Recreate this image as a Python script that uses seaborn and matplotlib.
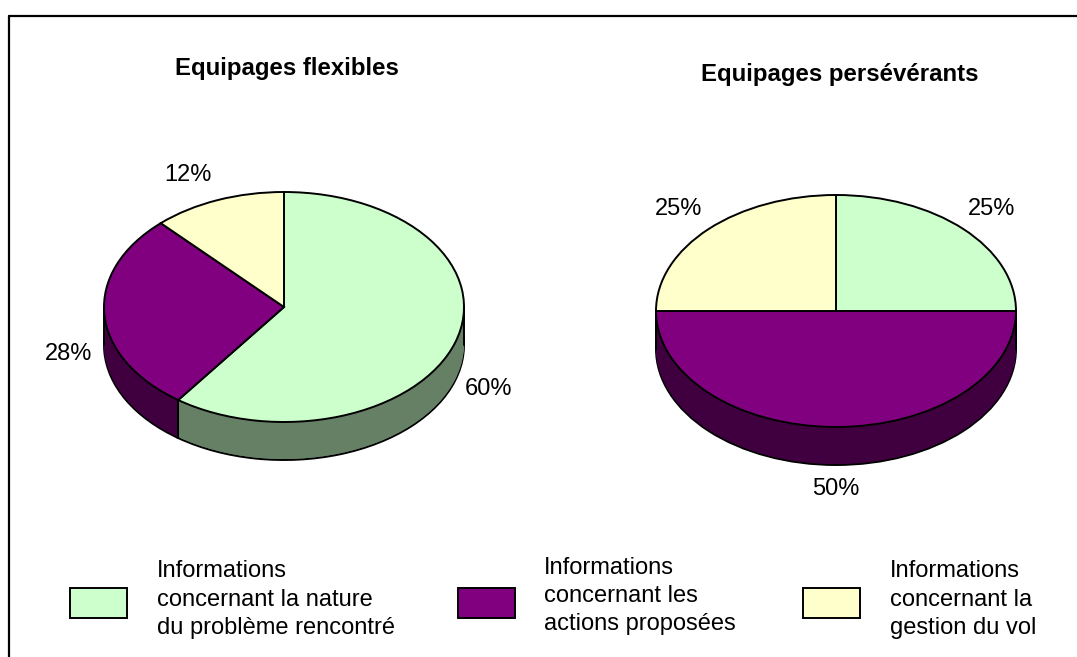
import numpy as np
import seaborn as sns
import matplotlib.pyplot as plt
from matplotlib.patches import Rectangle

# pie values in percent, clockwise from 12 o'clock
titles = ['Equipages flexibles', 'Equipages persévérants']
flexibles = [60, 28, 12]
perseverants = [25, 50, 25]
legend_labels = ['Informations\nconcernant la nature\ndu problème rencontré',
                 'Informations\nconcernant les\nactions proposées',
                 'Informations\nconcernant la\ngestion du vol']

W, H = 1077, 657

sns.set_theme(style='white')
plt.rcParams['font.family'] = ['Liberation Sans', 'DejaVu Sans']

top_cols = sns.color_palette(['#CCFFCC', '#800080', '#FFFFCC'])
side_cols = sns.color_palette(['#668066', '#400040', '#808066'])

fig = plt.figure(figsize=(W/100, H/100), dpi=100)
bg = fig.add_axes([0, 0, 1, 1])
bg.set_xlim(0, W)
bg.set_ylim(H, 0)
bg.axis('off')


def pie3d(values, cx, cy, rx, ry, depth):
    # axes in pixels, one data unit = rx across and ry down
    pad = 12
    x0, x1 = cx-rx-pad, cx+rx+pad
    y0, y1 = cy-ry-pad, cy+ry+depth+pad
    ax = fig.add_axes([x0/W, 1-y1/H, (x1-x0)/W, (y1-y0)/H])
    d = depth/ry
    kw = dict(startangle=90, counterclock=False, radius=1)
    # lower rim first, then the stack of layers, then the top face
    ax.pie(values, colors=side_cols, center=(0, -d),
           wedgeprops=dict(edgecolor='black', linewidth=1.4), **kw)
    for off in np.arange(d-1/ry, 0, -1/ry):
        ax.pie(values, colors=side_cols, center=(0, -off),
               wedgeprops=dict(edgecolor='none', linewidth=0), **kw)
    ax.pie(values, colors=top_cols, center=(0, 0),
           wedgeprops=dict(edgecolor='black', linewidth=1.4), **kw)
    # vertical seams on the visible front of the wall
    angles = np.radians(90 - 3.6*np.cumsum(values))
    for a in angles:
        if np.sin(a) <= 1e-6:
            ax.plot([np.cos(a)]*2, [np.sin(a), np.sin(a)-d], color='black', lw=1.4)
    for s in (-1, 1):
        ax.plot([s, s], [0, -d], color='black', lw=1.4)
    ax.set_aspect('auto')
    ax.set_xlim((x0-cx)/rx, (x1-cx)/rx)
    ax.set_ylim((cy-y1)/ry, (cy-y0)/ry)
    ax.patch.set_alpha(0)


pie3d(flexibles, 284, 307, 180, 115, 38)
pie3d(perseverants, 836, 311, 180, 116, 38)

# frame: top and left only, the picture is cut off on the other sides
bg.plot([9, W], [16, 16], color='black', lw=1.6, clip_on=False)
bg.plot([9, 9], [16, H], color='black', lw=1.6, clip_on=False)

bg.text(287, 68.5, titles[0], fontsize=17.3, fontweight='bold', ha='center', va='center', color='black')
bg.text(840, 74.5, titles[1], fontsize=17.3, fontweight='bold', ha='center', va='center', color='black')

label_pos_left = [(488, 389), (69, 354), (188, 175)]
label_pos_right = [(992, 209), (836, 489), (679, 209)]
for vals, pos in ((flexibles, label_pos_left), (perseverants, label_pos_right)):
    for v, (x, y) in zip(vals, pos):
        bg.text(x, y, f'{v}%', fontsize=17, ha='center', va='center', color='black')

rect_x = [70, 458, 803]
text_x = [157, 544, 890]
text_y = [599.5, 596, 599.5]
for lab, col, rx_, tx, ty in zip(legend_labels, top_cols, rect_x, text_x, text_y):
    bg.add_patch(Rectangle((rx_, 588), 57, 30, facecolor=col, edgecolor='black', linewidth=1.4))
    bg.text(tx, ty, lab, fontsize=17, ha='left', va='center', color='black', linespacing=1.38)

fig.savefig('out.png', dpi=100)
